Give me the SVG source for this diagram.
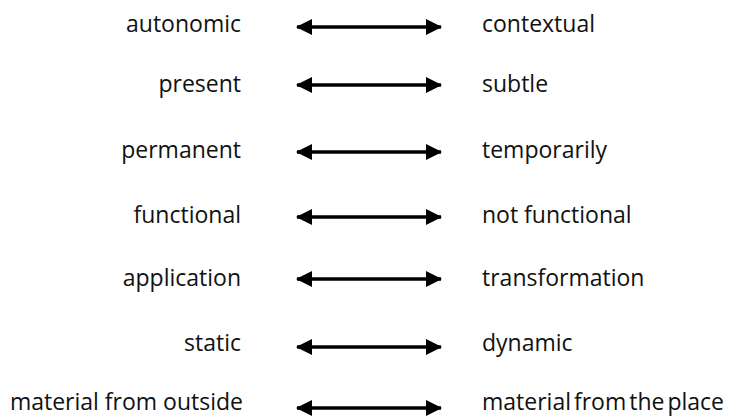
<svg xmlns="http://www.w3.org/2000/svg" width="734" height="416" viewBox="0 0 734 416">
<defs>
<style>
text{font-family:"Open Sans","Noto Sans",sans-serif;font-size:23px;fill:#111}
.l{text-anchor:end}
.c line{stroke:#000;stroke-width:3.5;marker-start:url(#hs);marker-end:url(#he)}
</style>
<marker id="he" markerUnits="userSpaceOnUse" viewBox="0 0 16 16" refX="15" refY="8" markerWidth="16" markerHeight="16" orient="auto"><path d="M0,0 L16,8 L0,16 Z" fill="#000"/></marker>
<marker id="hs" markerUnits="userSpaceOnUse" viewBox="0 0 16 16" refX="1" refY="8" markerWidth="16" markerHeight="16" orient="auto"><path d="M16,0 L0,8 L16,16 Z" fill="#000"/></marker>
</defs>
<rect width="734" height="416" fill="#fff"/>
<g id="connectors" class="c">
<line x1="297" y1="27" x2="441" y2="27"/>
<line x1="297" y1="85" x2="441" y2="85"/>
<line x1="297" y1="152" x2="441" y2="152"/>
<line x1="297" y1="217" x2="441" y2="217"/>
<line x1="297" y1="279" x2="441" y2="279"/>
<line x1="297" y1="347" x2="441" y2="347"/>
<line x1="297" y1="408" x2="441" y2="408"/>
</g>
<g id="autonomic"><text class="l" x="241" y="32">autonomic</text></g>
<g id="contextual"><text x="482" y="32">contextual</text></g>
<g id="present"><text class="l" x="241" y="92">present</text></g>
<g id="subtle"><text x="482" y="92">subtle</text></g>
<g id="permanent"><text class="l" x="241" y="158">permanent</text></g>
<g id="temporarily"><text x="482" y="158">temporarily</text></g>
<g id="functional"><text class="l" x="241" y="223">functional</text></g>
<g id="not-functional"><text x="482" y="223">not functional</text></g>
<g id="application"><text class="l" x="241" y="286">application</text></g>
<g id="transformation"><text x="482" y="286">transformation</text></g>
<g id="static"><text class="l" x="241" y="351">static</text></g>
<g id="dynamic"><text x="482" y="351">dynamic</text></g>
<g id="material-from-outside"><text class="l" x="243" y="410">material from outside</text></g>
<g id="material-from-the-place"><text x="482" y="410" word-spacing="-3">material from the place</text></g>
</svg>
